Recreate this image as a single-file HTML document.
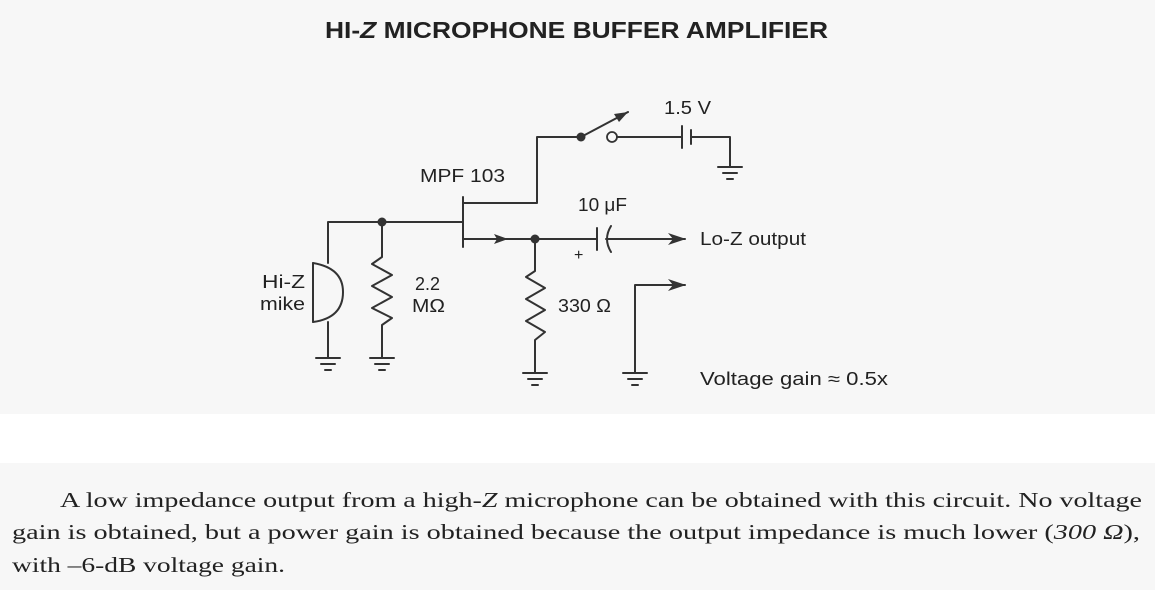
<!DOCTYPE html>
<html><head><meta charset="utf-8"><style>
html,body{margin:0;padding:0;background:#f7f7f7;}
svg{display:block;}
</style></head><body>
<svg width="1155" height="590" viewBox="0 0 1155 590" xmlns="http://www.w3.org/2000/svg">
<rect x="0" y="0" width="1155" height="414" fill="#f7f7f7"/>
<rect x="0" y="414" width="1155" height="49" fill="#ffffff"/>
<rect x="0" y="463" width="1155" height="127" fill="#f7f7f7"/>

<text x="325" y="38" textLength="503" lengthAdjust="spacingAndGlyphs" font-family="Liberation Sans, sans-serif" font-weight="bold" font-size="23" fill="#222">HI-<tspan font-style="italic">Z</tspan> MICROPHONE BUFFER AMPLIFIER</text>

<g stroke="#333" stroke-width="2" fill="none" stroke-linecap="round" stroke-linejoin="round">
 <path d="M328 263 V222 H463"/>
 <path d="M313 263 V322"/>
 <path d="M313 263 Q343 268 343 292 Q343 318 313 322"/>
 <path d="M328 322 V358"/>
 <path d="M382 222 V257 L372 264 L392 275 L372 286 L392 297 L372 308 L392 318 L382 325 V358"/>
 <path d="M463 197 V247"/>
 <path d="M463 203 H537 V137 H581 L628 112"/>
 <path d="M463 239 H535"/>
 <path d="M617 137 H682 M682 126 V148 M691 130 V144 M691 137 H730 V167"/>
 <path d="M535 239 H597 M597 228 V250 M611 226 Q603 239 611 252 M606 239 H685"/>
 <path d="M535 239 V271 L526 277 L545 288 L526 299 L545 310 L526 321 L545 332 L535 340 V373"/>
 <path d="M635 373 V285 H685"/>
 <path d="M316 358 H340 M321 364 H335 M325 370 H331"/>
 <path d="M370 358 H394 M375 364 H389 M379 370 H385"/>
 <path d="M523 373 H547 M528 379 H542 M532 385 H538"/>
 <path d="M623 373 H647 M628 379 H642 M632 385 H638"/>
 <path d="M718 167 H742 M723 173 H737 M727 179 H733"/>
</g>
<circle cx="382" cy="222" r="4.5" fill="#333"/>
<circle cx="535" cy="239" r="4.5" fill="#333"/>
<circle cx="581" cy="137" r="4.5" fill="#333"/>
<circle cx="612" cy="137" r="5" fill="none" stroke="#333" stroke-width="1.8"/>
<g fill="#333">
 <path d="M628 112 L614 114 L619 122 Z"/>
 <path d="M508 239 L494 234 L497 239 L494 244 Z"/>
 <path d="M686 239 L668 233 L673 239 L668 245 Z"/>
 <path d="M686 285 L668 279 L673 285 L668 291 Z"/>
</g>

<g font-family="Liberation Sans, sans-serif" font-size="18" fill="#222" lengthAdjust="spacingAndGlyphs">
 <text x="420" y="182" textLength="85" lengthAdjust="spacingAndGlyphs">MPF 103</text>
 <text x="664" y="114" textLength="47" lengthAdjust="spacingAndGlyphs">1.5 V</text>
 <text x="578" y="211" textLength="49" lengthAdjust="spacingAndGlyphs">10 μF</text>
 <text x="700" y="245" textLength="106" lengthAdjust="spacingAndGlyphs">Lo-Z output</text>
 <text x="574" y="260" font-size="16">+</text>
 <text x="262" y="288" textLength="43" lengthAdjust="spacingAndGlyphs">Hi-Z</text>
 <text x="260" y="310" textLength="45" lengthAdjust="spacingAndGlyphs">mike</text>
 <text x="415" y="290" textLength="25" lengthAdjust="spacingAndGlyphs">2.2</text>
 <text x="412" y="312" textLength="33" lengthAdjust="spacingAndGlyphs">MΩ</text>
 <text x="558" y="312" textLength="53" lengthAdjust="spacingAndGlyphs">330 Ω</text>
 <text x="700" y="385" textLength="188" lengthAdjust="spacingAndGlyphs">Voltage gain ≈ 0.5x</text>
</g>

<g font-family="Liberation Serif, serif" font-size="21" fill="#222">
 <text x="60" y="507" textLength="1082" lengthAdjust="spacingAndGlyphs">A low impedance output from a high-<tspan font-style="italic">Z</tspan> microphone can be obtained with this circuit. No voltage</text>
 <text x="12" y="539" textLength="1128" lengthAdjust="spacingAndGlyphs">gain is obtained, but a power gain is obtained because the output impedance is much lower (<tspan font-style="italic">300 Ω</tspan>),</text>
 <text x="12" y="572" textLength="273" lengthAdjust="spacingAndGlyphs">with –6-dB voltage gain.</text>
</g>
</svg>
</body></html>
